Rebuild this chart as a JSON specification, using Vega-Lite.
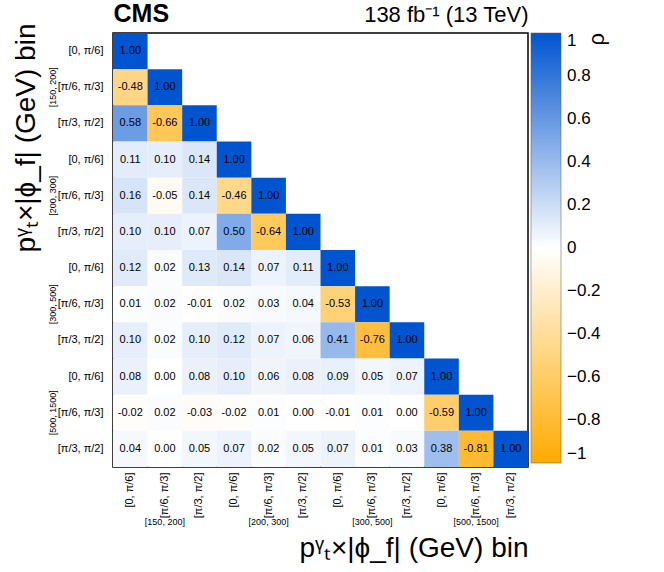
{
  "$schema": "https://vega.github.io/schema/vega-lite/v6.json",
  "description": "Correlation matrix between pT x |phi_f| bins, lower triangle.",
  "width": 415,
  "height": 434,
  "autosize": "none",
  "padding": {"left": 113, "top": 33, "right": 136, "bottom": 105},
  "background": "white",
  "config": {
    "font": "Liberation Sans",
    "view": {"stroke": "black", "strokeWidth": 1.5}
  },
  "datasets": {
    "corr": [
      {"r": 1, "c": 1, "v": 1.00},
      {"r": 2, "c": 1, "v": -0.48}, {"r": 2, "c": 2, "v": 1.00},
      {"r": 3, "c": 1, "v": 0.58}, {"r": 3, "c": 2, "v": -0.66}, {"r": 3, "c": 3, "v": 1.00},
      {"r": 4, "c": 1, "v": 0.11}, {"r": 4, "c": 2, "v": 0.10}, {"r": 4, "c": 3, "v": 0.14}, {"r": 4, "c": 4, "v": 1.00},
      {"r": 5, "c": 1, "v": 0.16}, {"r": 5, "c": 2, "v": -0.05}, {"r": 5, "c": 3, "v": 0.14}, {"r": 5, "c": 4, "v": -0.46}, {"r": 5, "c": 5, "v": 1.00},
      {"r": 6, "c": 1, "v": 0.10}, {"r": 6, "c": 2, "v": 0.10}, {"r": 6, "c": 3, "v": 0.07}, {"r": 6, "c": 4, "v": 0.50}, {"r": 6, "c": 5, "v": -0.64}, {"r": 6, "c": 6, "v": 1.00},
      {"r": 7, "c": 1, "v": 0.12}, {"r": 7, "c": 2, "v": 0.02}, {"r": 7, "c": 3, "v": 0.13}, {"r": 7, "c": 4, "v": 0.14}, {"r": 7, "c": 5, "v": 0.07}, {"r": 7, "c": 6, "v": 0.11}, {"r": 7, "c": 7, "v": 1.00},
      {"r": 8, "c": 1, "v": 0.01}, {"r": 8, "c": 2, "v": 0.02}, {"r": 8, "c": 3, "v": -0.01}, {"r": 8, "c": 4, "v": 0.02}, {"r": 8, "c": 5, "v": 0.03}, {"r": 8, "c": 6, "v": 0.04}, {"r": 8, "c": 7, "v": -0.53}, {"r": 8, "c": 8, "v": 1.00},
      {"r": 9, "c": 1, "v": 0.10}, {"r": 9, "c": 2, "v": 0.02}, {"r": 9, "c": 3, "v": 0.10}, {"r": 9, "c": 4, "v": 0.12}, {"r": 9, "c": 5, "v": 0.07}, {"r": 9, "c": 6, "v": 0.06}, {"r": 9, "c": 7, "v": 0.41}, {"r": 9, "c": 8, "v": -0.76}, {"r": 9, "c": 9, "v": 1.00},
      {"r": 10, "c": 1, "v": 0.08}, {"r": 10, "c": 2, "v": 0.00}, {"r": 10, "c": 3, "v": 0.08}, {"r": 10, "c": 4, "v": 0.10}, {"r": 10, "c": 5, "v": 0.06}, {"r": 10, "c": 6, "v": 0.08}, {"r": 10, "c": 7, "v": 0.09}, {"r": 10, "c": 8, "v": 0.05}, {"r": 10, "c": 9, "v": 0.07}, {"r": 10, "c": 10, "v": 1.00},
      {"r": 11, "c": 1, "v": -0.02}, {"r": 11, "c": 2, "v": 0.02}, {"r": 11, "c": 3, "v": -0.03}, {"r": 11, "c": 4, "v": -0.02}, {"r": 11, "c": 5, "v": 0.01}, {"r": 11, "c": 6, "v": 0.00}, {"r": 11, "c": 7, "v": -0.01}, {"r": 11, "c": 8, "v": 0.01}, {"r": 11, "c": 9, "v": 0.00}, {"r": 11, "c": 10, "v": -0.59}, {"r": 11, "c": 11, "v": 1.00},
      {"r": 12, "c": 1, "v": 0.04}, {"r": 12, "c": 2, "v": 0.00}, {"r": 12, "c": 3, "v": 0.05}, {"r": 12, "c": 4, "v": 0.07}, {"r": 12, "c": 5, "v": 0.02}, {"r": 12, "c": 6, "v": 0.05}, {"r": 12, "c": 7, "v": 0.07}, {"r": 12, "c": 8, "v": 0.01}, {"r": 12, "c": 9, "v": 0.03}, {"r": 12, "c": 10, "v": 0.38}, {"r": 12, "c": 11, "v": -0.81}, {"r": 12, "c": 12, "v": 1.00}
    ],
    "groups": [{"g": 1}, {"g": 2}, {"g": 3}, {"g": 4}]
  },
  "layer": [
    {
      "data": {"name": "corr"},
      "encoding": {
        "x": {
          "field": "c", "type": "ordinal",
          "scale": {"type": "band", "domain": [1, 2, 3, 4, 5, 6, 7, 8, 9, 10, 11, 12], "paddingInner": 0, "paddingOuter": 0},
          "axis": {
            "orient": "bottom", "title": null, "ticks": false, "domain": false,
            "labelAngle": -90, "labelPadding": 5, "labelFontSize": 11, "labelColor": "black",
            "labelExpr": "['[0, π/6]', '[π/6, π/3]', '[π/3, π/2]'][(datum.value - 1) % 3]"
          }
        },
        "y": {
          "field": "r", "type": "ordinal",
          "scale": {"type": "band", "domain": [1, 2, 3, 4, 5, 6, 7, 8, 9, 10, 11, 12], "paddingInner": 0, "paddingOuter": 0},
          "axis": {
            "orient": "left", "title": null, "ticks": false, "domain": false,
            "labelPadding": 10, "labelFontSize": 11, "labelColor": "black",
            "labelExpr": "['[0, π/6]', '[π/6, π/3]', '[π/3, π/2]'][(datum.value - 1) % 3]"
          }
        }
      },
      "layer": [
        {
          "mark": {"type": "rect"},
          "encoding": {
            "color": {
              "field": "v", "type": "quantitative",
              "scale": {"type": "linear", "domain": [-1, 0, 1], "range": ["#ffaa00", "#ffffff", "#0054d0"], "interpolate": "rgb"},
              "legend": {
                "orient": "right", "direction": "vertical", "offset": 3,
                "gradientLength": 430, "gradientThickness": 30,
                "gradientStrokeColor": "#555555", "gradientStrokeWidth": 0.5,
                "values": [-1, -0.8, -0.6, -0.4, -0.2, 0, 0.2, 0.4, 0.6, 0.8, 1],
                "format": ".1~f", "labelFontSize": 17, "labelOffset": 6, "labelOverlap": false,
                "labelColor": "black",
                "title": "ρ", "titleFontSize": 22, "titleFontWeight": "normal", "titleOrient": "right", "titleAnchor": "end", "titlePadding": 8, "titleColor": "black",
                "encode": {"title": {"update": {"angle": {"value": -90}, "align": {"value": "right"}}}}
              }
            }
          }
        },
        {
          "mark": {"type": "text", "fontSize": 11, "color": "black", "text": {"expr": "replace(format(datum.v, '.2f'), '\u2212', '-')"}},
          "encoding": {}
        }
      ]
    },
    {
      "data": {"name": "groups"},
      "mark": {"type": "rect", "opacity": 0},
      "encoding": {
        "x": {
          "field": "g", "type": "ordinal",
          "scale": {"type": "band", "domain": [1, 2, 3, 4], "paddingInner": 0, "paddingOuter": 0},
          "axis": {
            "orient": "bottom", "ticks": false, "domain": false,
            "labelAngle": 0, "labelPadding": 50, "labelFontSize": 9, "labelBaseline": "top", "labelColor": "black",
            "labelExpr": "['[150, 200]', '[200, 300]', '[300, 500]', '[500, 1500]'][datum.value - 1]",
            "title": "pᵞₜ×|ϕ_f| (GeV) bin", "titleFontSize": 28, "titleFontWeight": "normal", "titleAnchor": "end", "titlePadding": 8, "titleColor": "black"
          }
        },
        "y": {
          "field": "g", "type": "ordinal",
          "scale": {"type": "band", "domain": [1, 2, 3, 4], "paddingInner": 0, "paddingOuter": 0},
          "axis": {
            "orient": "left", "ticks": false, "domain": false,
            "labelAngle": -90, "labelPadding": 56, "labelFontSize": 9, "labelColor": "black",
            "labelExpr": "['[150, 200]', '[200, 300]', '[300, 500]', '[500, 1500]'][datum.value - 1]",
            "title": "pᵞₜ×|ϕ_f| (GeV) bin", "titleFontSize": 28, "titleFontWeight": "normal", "titleAnchor": "start", "titleAlign": "right", "titleY": -10, "titlePadding": 8, "titleColor": "black"
          }
        }
      }
    },
    {
      "data": {"name": "groups"},
      "mark": {"type": "rect", "opacity": 0},
      "encoding": {
        "x": {
          "field": "g", "type": "ordinal",
          "scale": {"type": "band", "paddingInner": 0, "paddingOuter": 0},
          "axis": {
            "orient": "top", "labels": false, "ticks": false, "domain": false,
            "title": "CMS", "titleFontSize": 25, "titleFontWeight": "bold", "titleAnchor": "start", "titlePadding": 7, "titleColor": "black"
          }
        }
      }
    },
    {
      "data": {"name": "groups"},
      "mark": {"type": "rect", "opacity": 0},
      "encoding": {
        "x": {
          "field": "g", "type": "ordinal",
          "scale": {"type": "band", "paddingInner": 0, "paddingOuter": 0},
          "axis": {
            "orient": "top", "labels": false, "ticks": false, "domain": false,
            "title": "138 fb⁻¹ (13 TeV)", "titleFontSize": 22, "titleFontWeight": "normal", "titleAnchor": "end", "titlePadding": 7, "titleColor": "black"
          }
        }
      }
    }
  ],
  "resolve": {"scale": {"x": "independent", "y": "independent"}}
}
